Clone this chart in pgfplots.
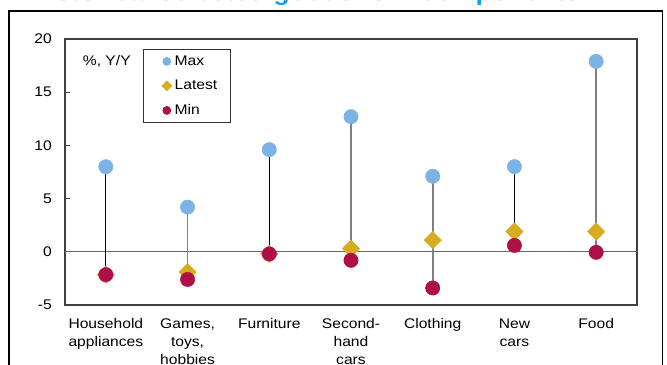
\documentclass[border=0pt]{standalone}
\usepackage{pgfplots}
\usepackage{pgfplotstable}
\pgfplotsset{compat=1.18}
\usepackage{fontspec}
\setmainfont{Liberation Sans}[FakeStretch=1.12]

\definecolor{maxblue}{RGB}{125,178,228}
\definecolor{latestgold}{RGB}{214,172,32}
\definecolor{minred}{RGB}{176,14,70}
\definecolor{titleblue}{RGB}{20,160,230}

% category index, historical max, latest reading, historical min (% Y/Y)
\pgfplotstableread{
x   max   latest  min
0   8.0   -2.15   -2.15
1   4.2   -1.9    -2.6
2   9.6   -0.2    -0.2
3   12.7   0.3    -0.8
4   7.1    1.1    -3.4
5   8.0    1.9     0.6
6   17.9   1.9    -0.05
}\ranges

\begin{document}
\begin{tikzpicture}
\useasboundingbox (0,0) rectangle (667bp,365bp);
\node[anchor=base west, inner sep=0pt, text=titleblue,
      font=\fontsize{24}{24}\selectfont\bfseries] at (29bp,364.5bp)
      {Historical selected goods' CPI components};
\draw[line width=1.3bp] (9bp,-5bp) rectangle (662.5bp,354bp);
\begin{axis}[
  at={(65bp,60bp)}, anchor=south west,
  width=572bp, height=266bp, scale only axis,
  xmin=-0.5, xmax=6.5, ymin=-5, ymax=20,
  xtick={0,...,6},
  xticklabels={{Household\\appliances},{Games,\\toys,\\hobbies},Furniture,{Second-\\hand\\cars},Clothing,{New\\cars},Food},
  ytick={-5,0,5,10,15,20},
  ytick pos=left,
  tick align=inside,
  major tick length=5bp,
  xtick style={draw=none},
  ytick style={black!75, line width=0.8bp},
  axis line style={draw=black!75, line width=1.1bp},
  /pgf/number format/assume math mode=true,
  yticklabel style={font=\fontsize{14}{16}\selectfont, anchor=east, inner sep=0pt, xshift=-13bp},
  xticklabel style={font=\fontsize{14}{18}\selectfont, align=center, anchor=north,
    inner sep=0pt, yshift=-13.5bp, execute at begin node={\baselineskip=18bp\relax}},
  legend style={at={(rel axis cs:0.1364,0.9624)}, anchor=north west,
    draw=black!80, line width=0.8bp, fill=white,
    inner xsep=13bp, inner ysep=6bp, row sep=12.5bp, column sep=3bp,
    font=\fontsize{14}{16}\selectfont,
    nodes={inner sep=0pt, text height=10bp, text depth=2bp}},
  legend cell align=left,
  legend image code/.code={\path (-10bp,0bp); \draw[#1, /tikz/every mark/.append style={scale=0.55}] plot coordinates {(0bp,0bp)};},
  clip=false,
]
% zero line
\addplot[forget plot, draw=black!60, line width=1.4bp] coordinates {(-0.5,0) (6.5,0)};
% min-to-max ranges
\addplot[forget plot, black, line width=0.9bp] coordinates {(0,-2.15) (0,8.0)};
\addplot[forget plot, black!50, line width=1.6bp] coordinates {(1,-2.6) (1,4.2)};
\addplot[forget plot, black, line width=0.9bp] coordinates {(2,-0.2) (2,9.6)};
\addplot[forget plot, black!50, line width=1.6bp] coordinates {(3,-0.8) (3,12.7)};
\addplot[forget plot, black!50, line width=1.6bp] coordinates {(4,-3.4) (4,7.1)};
\addplot[forget plot, black, line width=0.9bp] coordinates {(5,0.6) (5,8.0)};
\addplot[forget plot, black!50, line width=1.6bp] coordinates {(6,-0.05) (6,17.9)};
% markers
\addplot[only marks, mark=*, mark size=7.2bp, mark options={draw=maxblue, fill=maxblue}]
  table[x=x, y=max] {\ranges};
\addlegendentry{Max}
\addplot[only marks, mark=square*, mark size=6.2bp, mark options={rotate=45, draw=latestgold, fill=latestgold}]
  table[x=x, y=latest] {\ranges};
\addlegendentry{Latest}
\addplot[only marks, mark=*, mark size=7.2bp, mark options={draw=minred, fill=minred}]
  table[x=x, y=min] {\ranges};
\addlegendentry{Min}
\node[anchor=base west, inner sep=0pt, font=\fontsize{14}{16}\selectfont]
  at (rel axis cs:0.031,0.902) {\%, Y/Y};
\end{axis}
\end{tikzpicture}
\end{document}
